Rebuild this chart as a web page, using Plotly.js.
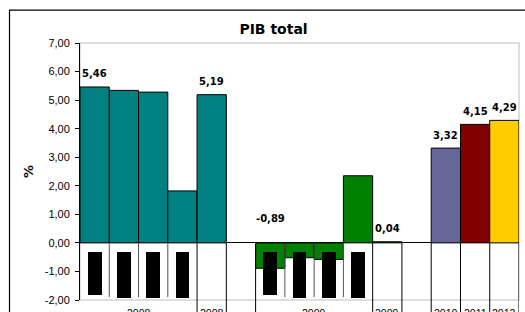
<!DOCTYPE html>
<html>
<head>
<meta charset="utf-8">
<script src="https://cdn.plot.ly/plotly-3.0.1.min.js"></script>
<style>html,body{margin:0;padding:0;background:#fff;}#chart{width:525px;height:312px;}</style>
</head>
<body>
<div id="chart"></div>
<script>
// ---- data ----
var categories = ['2008 I','2008 II','2008 III','2008 IV','2008','',
                  '2009 I','2009 II','2009 III','2009 IV','2009','',
                  '2010','2011','2012'];
var groups = ['2008q','2008q','2008q','2008q','2008','gapA',
              '2009q','2009q','2009q','2009q','2009','gapB',
              '2010','2011','2012'];
var values = [5.46, 5.34, 5.28, 1.82, 5.19, null,
              -0.89, -0.52, -0.58, 2.35, 0.04, null,
              3.32, 4.15, 4.29];
var barColors = ['#008080','#008080','#008080','#008080','#008080','#ffffff',
                 '#008000','#008000','#008000','#008000','#008000','#ffffff',
                 '#666699','#800000','#FFCC00'];
var valueLabels = ['5,46','','','','5,19','',
                   '-0,89','','','','0,04','',
                   '3,32','4,15','4,29'];
// quarter label glyph blocks (rendered as solid black in the source)
var quarterBlockTop = [-0.32,-0.32,-0.32,-0.32,null,null,-0.32,-0.32,-0.32,-0.32,null,null,null,null,null];
var quarterBlockBottom = [-1.83,-1.93,-1.93,-1.93,null,null,-1.83,-1.93,-1.93,-1.93,null,null,null,null,null];
var groupLabels = ['2008','2008','2009','2009','2010','2011','2012'];
var groupLabelPos = [1.5, 4, 7.5, 10, 12, 13, 14];
var yTickVals = [7,6,5,4,3,2,1,0,-1,-2];
var yTickText = ['7,00','6,00','5,00','4,00','3,00','2,00','1,00','0,00','-1,00','-2,00'];
var yMin = -2, yMax = 7;

// ---- build ----
var slots = categories.map(function(_, i){ return i; });

var mainBars = {
  type: 'bar', x: slots, y: values, width: 1,
  marker: {color: barColors, line: {color: '#000', width: 1}},
  hovertext: categories, hoverinfo: 'text+y', showlegend: false
};
var blockBase = [], blockLen = [];
for (var i = 0; i < slots.length; i++) {
  if (quarterBlockTop[i] === null) { blockBase.push(null); blockLen.push(null); }
  else { blockBase.push(quarterBlockBottom[i]); blockLen.push(quarterBlockTop[i] - quarterBlockBottom[i]); }
}
var blocks = {
  type: 'bar', x: slots, y: blockLen, base: blockBase, width: 0.47,
  marker: {color: '#000', line: {width: 0}}, hoverinfo: 'skip', showlegend: false
};

var zeroPaper = (0 - yMin) / (yMax - yMin);
var shapes = [
  // plot border (light grey)
  {type: 'rect', xref: 'paper', yref: 'paper', x0: 0, x1: 1, y0: 0, y1: 1,
   line: {color: '#d4d4d4', width: 1.5}, layer: 'below'},
  // outer chart border
  {type: 'rect', xref: 'paper', yref: 'paper', x0: -0.1606, x1: 1.3, y0: -0.3, y1: 1.128,
   line: {color: '#000', width: 1.2}, layer: 'above'}
];
for (var k = 1; k <= slots.length; k++) {
  var full = (k === slots.length) || (groups[k] !== groups[k-1]);
  shapes.push({
    type: 'line', xref: 'x', yref: 'paper', x0: k - 0.5, x1: k - 0.5,
    y0: zeroPaper, y1: full ? -0.2 : (zeroPaper - 1.9 / (yMax - yMin)),
    line: {color: full ? '#000' : '#555', width: 1}, layer: 'above'
  });
}

var annotations = [];
for (var j = 0; j < slots.length; j++) {
  if (!valueLabels[j]) continue;
  var v = values[j];
  annotations.push({
    x: j, y: Math.max(v, 0), xref: 'x', yref: 'y', text: valueLabels[j],
    showarrow: false, yanchor: 'middle', yshift: v < 0 ? 24 : 13,
    font: {family: 'DejaVu Sans', size: 10, color: '#000', weight: 'bold'}
  });
}
for (var g = 0; g < groupLabels.length; g++) {
  annotations.push({
    x: groupLabelPos[g], y: -0.018, xref: 'x', yref: 'paper', yanchor: 'top',
    text: groupLabels[g], showarrow: false,
    font: {family: 'Liberation Sans, Arial', size: 10.5, color: '#000'}
  });
}

var layout = {
  width: 525, height: 312,
  margin: {l: 80, r: 6, t: 43, b: 12, pad: 0},
  paper_bgcolor: '#fff', plot_bgcolor: '#fff',
  barmode: 'overlay', bargap: 0,
  title: {text: 'PIB total', x: 0.521, xref: 'container', xanchor: 'center',
          y: 1 - 29/312, yref: 'container', yanchor: 'middle',
          font: {family: 'DejaVu Sans', size: 14, color: '#000', weight: 'bold'}},
  xaxis: {range: [-0.5, slots.length - 0.5], showticklabels: false, showgrid: false,
          zeroline: false, showline: false, ticks: '', fixedrange: true},
  yaxis: {range: [yMin, yMax], tickvals: yTickVals, ticktext: yTickText,
          showgrid: false, zeroline: true, zerolinecolor: '#000', zerolinewidth: 1,
          showline: true, linecolor: '#000', linewidth: 1,
          ticks: 'outside', ticklen: 4, tickcolor: '#000', tickwidth: 1,
          ticklabelstandoff: 3,
          tickfont: {family: 'Liberation Sans, Arial', size: 11, color: '#000'},
          title: {text: '%', standoff: 8,
                  font: {family: 'DejaVu Sans', size: 13, color: '#000', weight: 'bold'}},
          fixedrange: true},
  shapes: shapes,
  annotations: annotations
};

Plotly.newPlot('chart', [mainBars, blocks], layout, {displayModeBar: false, staticPlot: true});
</script>
</body>
</html>
